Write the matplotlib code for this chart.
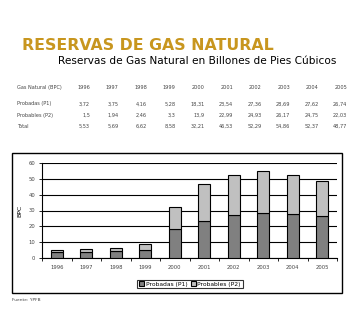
import matplotlib.pyplot as plt
from matplotlib.patches import Rectangle

# datos (miles de millones de pies cubicos)
anios = ["1996", "1997", "1998", "1999", "2000", "2001", "2002", "2003", "2004", "2005"]
probadas = [3.72, 3.75, 4.16, 5.28, 18.31, 23.54, 27.36, 28.69, 27.62, 26.74]
probables = [1.5, 1.94, 2.46, 3.3, 13.9, 22.99, 24.93, 26.17, 24.75, 22.03]
total_txt = ["5,53", "5,69", "6,62", "8,58", "32,21", "46,53", "52,29", "54,86", "52,37", "48,77"]

W, H = 361, 309
fig = plt.figure(figsize=(W / 100, H / 100), dpi=100)
fig.patch.set_facecolor("white")


def px(x, y):
    # pixeles de la imagen -> coordenadas de figura
    return x / W, 1 - y / H


def fmt(v):
    s = f"{v:.2f}".rstrip("0").rstrip(".")
    return s.replace(".", ",")


# titulos
fig.text(*px(22, 45), "RESERVAS DE GAS NATURAL", fontsize=11.3, fontweight="heavy",
         color="#c8961e", va="center", ha="left")
fig.text(*px(58, 61), "Reservas de Gas Natural en Billones de Pies Cúbicos", fontsize=7.6,
         color="black", va="center", ha="left")

# tabla
col_x = [90 + i * 28.6 for i in range(10)]
filas = [
    ("Gas Natural (BPC)", anios, 88),
    ("Probadas (P1)", [fmt(v) for v in probadas], 104),
    ("Probables (P2)", [fmt(v) for v in probables], 115),
    ("Total", total_txt, 126),
]
for etiqueta, valores, y in filas:
    fig.text(*px(17, y), etiqueta, fontsize=3.6, va="center", ha="left", color="#444444")
    for x, v in zip(col_x, valores):
        fig.text(*px(x, y), v, fontsize=3.6, va="center", ha="right", color="#444444")

# marco exterior del grafico
x0, y0 = px(12, 293)
x1, y1 = px(342, 153)
fig.patches.append(Rectangle((x0, y0), x1 - x0, y1 - y0, transform=fig.transFigure,
                             fill=False, edgecolor="black", linewidth=1.0))

ax = fig.add_axes([42 / W, 1 - 258 / H, (337 - 42) / W, (258 - 163) / H])
pos = range(len(anios))
ax.bar(pos, probadas, width=0.42, color="#808080", edgecolor="black", linewidth=0.8,
       label="Probadas (P1)", zorder=3)
ax.bar(pos, probables, width=0.42, bottom=probadas, color="#c0c0c0", edgecolor="black",
       linewidth=0.8, label="Probables (P2)", zorder=3)

ax.set_xlim(-0.5, 9.5)
ax.set_ylim(0, 60)
ax.set_yticks(range(0, 61, 10))
ax.yaxis.grid(True, color="black", linewidth=0.8)
ax.set_axisbelow(True)
ax.set_xticks(list(pos))
ax.set_xticklabels(anios)
ax.set_xticks([i + 0.5 for i in range(-1, 10)], minor=True)
ax.tick_params(axis="x", which="major", length=0, labelsize=3.8, pad=5, labelcolor="#444444")
ax.tick_params(axis="x", which="minor", length=2, width=0.6)
ax.tick_params(axis="y", length=2, width=0.6, labelsize=3.8, pad=3, labelcolor="#444444")
for s in ["top", "right"]:
    ax.spines[s].set_visible(False)
ax.spines["left"].set_linewidth(0.8)
ax.spines["bottom"].set_linewidth(0.8)
ax.set_ylabel("BPC", fontsize=4.5, labelpad=4)

fig.legend(loc="center", bbox_to_anchor=px(190, 284), ncol=2, fontsize=4.3,
           frameon=True, fancybox=False, edgecolor="black", handlelength=0.8,
           handleheight=0.8, handletextpad=0.3, columnspacing=0.6,
           borderpad=0.3, borderaxespad=0).get_frame().set_linewidth(0.8)

fig.text(*px(12, 300), "Fuente: YPFB", fontsize=3.2, va="center", ha="left", color="#444444")

fig.savefig("out.png", dpi=100, facecolor="white")
